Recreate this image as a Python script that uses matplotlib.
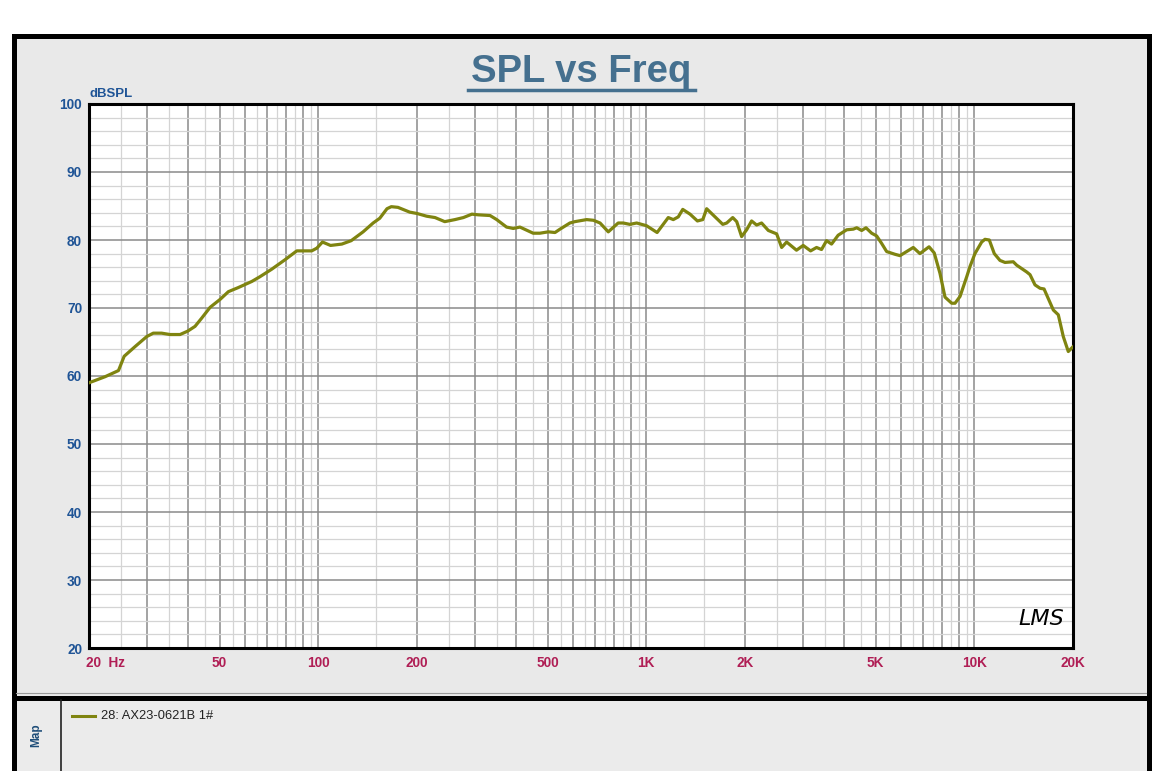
import matplotlib.pyplot as plt
from matplotlib.patches import Rectangle
from matplotlib.lines import Line2D
from matplotlib.ticker import FixedLocator, NullFormatter, FixedFormatter
import matplotlib.transforms as mtransforms

freq = [20, 22.4, 24.6, 25.6, 27.6, 30.0, 31.4, 33.3, 35.3, 37.9, 40.0, 42.1, 44.1,
        46.8, 50.3, 53.2, 57.0, 62.7, 66.4, 72.1, 79.2, 86.0, 95.5, 99, 103, 109,
        118, 126, 137, 147, 154, 162, 167, 175, 190, 200, 214, 227, 243, 261, 277,
        294, 308, 334, 350, 375, 393, 412, 452, 474, 503, 527, 546, 585, 606, 658,
        690, 723, 766, 821, 851, 891, 935, 1002, 1079, 1114, 1167, 1209, 1252,
        1292, 1360, 1432, 1487, 1528, 1620, 1711, 1759, 1835, 1887, 1953, 2023,
        2095, 2170, 2247, 2356, 2498, 2587, 2679, 2871, 3009, 3170, 3305, 3423,
        3545, 3672, 3846, 4083, 4280, 4382, 4537, 4676, 4866, 5039, 5219, 5406,
        5731, 5937, 6221, 6517, 6828, 7280, 7550, 7861, 8143, 8535, 8737, 9050,
        9484, 9705, 10048, 10533, 10780, 11113, 11509, 11977, 12406, 13150, 13467,
        14448, 14793, 15316, 15874, 16321, 17421, 18040, 18682, 19350, 19820, 20000]
spl = [59.0, 59.9, 60.8, 62.9, 64.3, 65.8, 66.3, 66.3, 66.1, 66.1, 66.6, 67.3, 68.5,
       70.1, 71.3, 72.4, 73.0, 73.9, 74.6, 75.7, 77.1, 78.4, 78.4, 78.8, 79.7, 79.2,
       79.4, 79.9, 81.2, 82.5, 83.2, 84.6, 84.9, 84.8, 84.1, 83.9, 83.5, 83.3, 82.7,
       83.0, 83.3, 83.8, 83.7, 83.6, 83.0, 81.9, 81.7, 81.9, 81.0, 81.0, 81.2, 81.1,
       81.6, 82.5, 82.7, 83.0, 82.9, 82.5, 81.2, 82.5, 82.5, 82.3, 82.5, 82.1, 81.1,
       82.0, 83.3, 83.0, 83.4, 84.5, 83.8, 82.8, 83.0, 84.6, 83.4, 82.3, 82.5, 83.3,
       82.7, 80.5, 81.5, 82.8, 82.2, 82.5, 81.4, 80.9, 78.9, 79.7, 78.5, 79.2, 78.4,
       78.9, 78.6, 79.9, 79.4, 80.7, 81.5, 81.6, 81.8, 81.4, 81.8, 81.0, 80.6, 79.5,
       78.3, 77.9, 77.7, 78.3, 78.9, 78.0, 79.0, 78.1, 75.1, 71.6, 70.7, 70.7, 71.7,
       74.6, 76.1, 78.0, 79.7, 80.1, 80.0, 78.0, 77.0, 76.7, 76.8, 76.3, 75.3, 74.9,
       73.4, 72.9, 72.8, 69.7, 69.0, 65.8, 63.6, 64.1, 64.3]

x_labels = {50: '50', 100: '100', 200: '200', 500: '500', 1000: '1K', 2000: '2K',
            5000: '5K', 10000: '10K', 20000: '20K'}
y_ticks = [20, 30, 40, 50, 60, 70, 80, 90, 100]

W, H = 1157, 771
def fx(px): return px / W
def fy(py): return 1 - py / H

plt.rcParams['font.family'] = ['Liberation Sans', 'DejaVu Sans']
fig = plt.figure(figsize=(W / 100, H / 100), dpi=100)
fig.patch.set_facecolor('white')

# panels
top = Rectangle((fx(14), fy(697.5)), fx(1148.5) - fx(14), fy(35.5) - fy(697.5),
                transform=fig.transFigure, facecolor='#e9e9e9', edgecolor='black',
                lw=3.6, zorder=-2)
bot = Rectangle((fx(14), fy(800)), fx(1148.5) - fx(14), fy(697.5) - fy(800),
                transform=fig.transFigure, facecolor='#ebebeb', edgecolor='black',
                lw=3.6, zorder=-2)
fig.patches.extend([top, bot])
fig.lines.append(Line2D([fx(16), fx(1146)], [fy(692.5), fy(692.5)], transform=fig.transFigure,
                        color='#9a9a9a', lw=0.8))
fig.lines.append(Line2D([fx(60.5), fx(60.5)], [fy(700), fy(771)], transform=fig.transFigure,
                        color='#222222', lw=1.2))

ax = fig.add_axes([fx(89), fy(648), fx(1073) - fx(89), fy(104) - fy(648)])
ax.set_zorder(2)
ax.set_facecolor('white')
ax.set_xscale('log')
ax.set_xlim(20, 20000)
ax.set_ylim(20, 100)

major_x = [m * 10 ** d for d in range(1, 5) for m in range(1, 10) if 20 <= m * 10 ** d <= 20000]
minor_x = [(m + 0.5) * 10 ** d for d in range(1, 4) for m in range(1, 10) if 20 <= (m + 0.5) * 10 ** d <= 20000]
ax.xaxis.set_major_locator(FixedLocator(major_x))
ax.xaxis.set_major_formatter(FixedFormatter([x_labels.get(int(round(v)), '') for v in major_x]))
ax.xaxis.set_minor_locator(FixedLocator(minor_x))
ax.xaxis.set_minor_formatter(NullFormatter())
ax.yaxis.set_major_locator(FixedLocator(y_ticks))
ax.yaxis.set_minor_locator(FixedLocator(list(range(22, 100, 2))))
ax.set_yticklabels([str(v) for v in y_ticks])

ax.grid(which='major', color='#8a8a8a', lw=1.1)
ax.grid(which='minor', color='#d4d4d4', lw=0.9)
ax.set_axisbelow(True)
ax.tick_params(which='both', length=0)
ax.tick_params(axis='x', pad=6, labelsize=9.8, labelcolor='#b01e55')
ax.tick_params(axis='y', pad=5, labelsize=9.8, labelcolor='#1f5496')
for lab in ax.get_xticklabels() + ax.get_yticklabels():
    lab.set_fontweight('bold')
for s in ax.spines.values():
    s.set_linewidth(2.2)
    s.set_color('black')

ax.plot(freq, spl, color='#7f8410', lw=2.3, solid_joinstyle='round', zorder=3)

trans = mtransforms.blended_transform_factory(ax.transData, ax.transAxes)
ax.annotate('20  Hz', xy=(20, 0), xycoords=trans, xytext=(-2.5, -6), textcoords='offset points',
            ha='left', va='top', fontsize=9.8, fontweight='bold', color='#b01e55')
ax.text(0, 1.008, 'dBSPL', transform=ax.transAxes, ha='left', va='bottom',
        fontsize=9.5, fontweight='bold', color='#1f5496')
ax.text(0.968, 0.035, 'LMS', transform=ax.transAxes, ha='center', va='bottom',
        fontsize=16, style='italic', family='DejaVu Sans', fontweight='light', color='black')

# title
fig.text(fx(581), fy(81.5), 'SPL vs Freq', ha='center', va='baseline', fontsize=27.5,
         fontweight='bold', color='#45708f')
fig.lines.append(Line2D([fx(468), fx(695)], [fy(90), fy(90)], transform=fig.transFigure,
                        color='#45708f', lw=2.5))

# map panel
fig.text(fx(36), fy(735), 'Map', rotation=90, ha='center', va='center', fontsize=8.5,
         fontweight='bold', color='#1f4e79')
fig.lines.append(Line2D([fx(72), fx(95)], [fy(716), fy(716)], transform=fig.transFigure,
                        color='#7f8410', lw=2.2))
fig.text(fx(101), fy(716), '28: AX23-0621B 1#', ha='left', va='center', fontsize=9.3,
         color='#222222')

fig.savefig('out.png', dpi=100)
